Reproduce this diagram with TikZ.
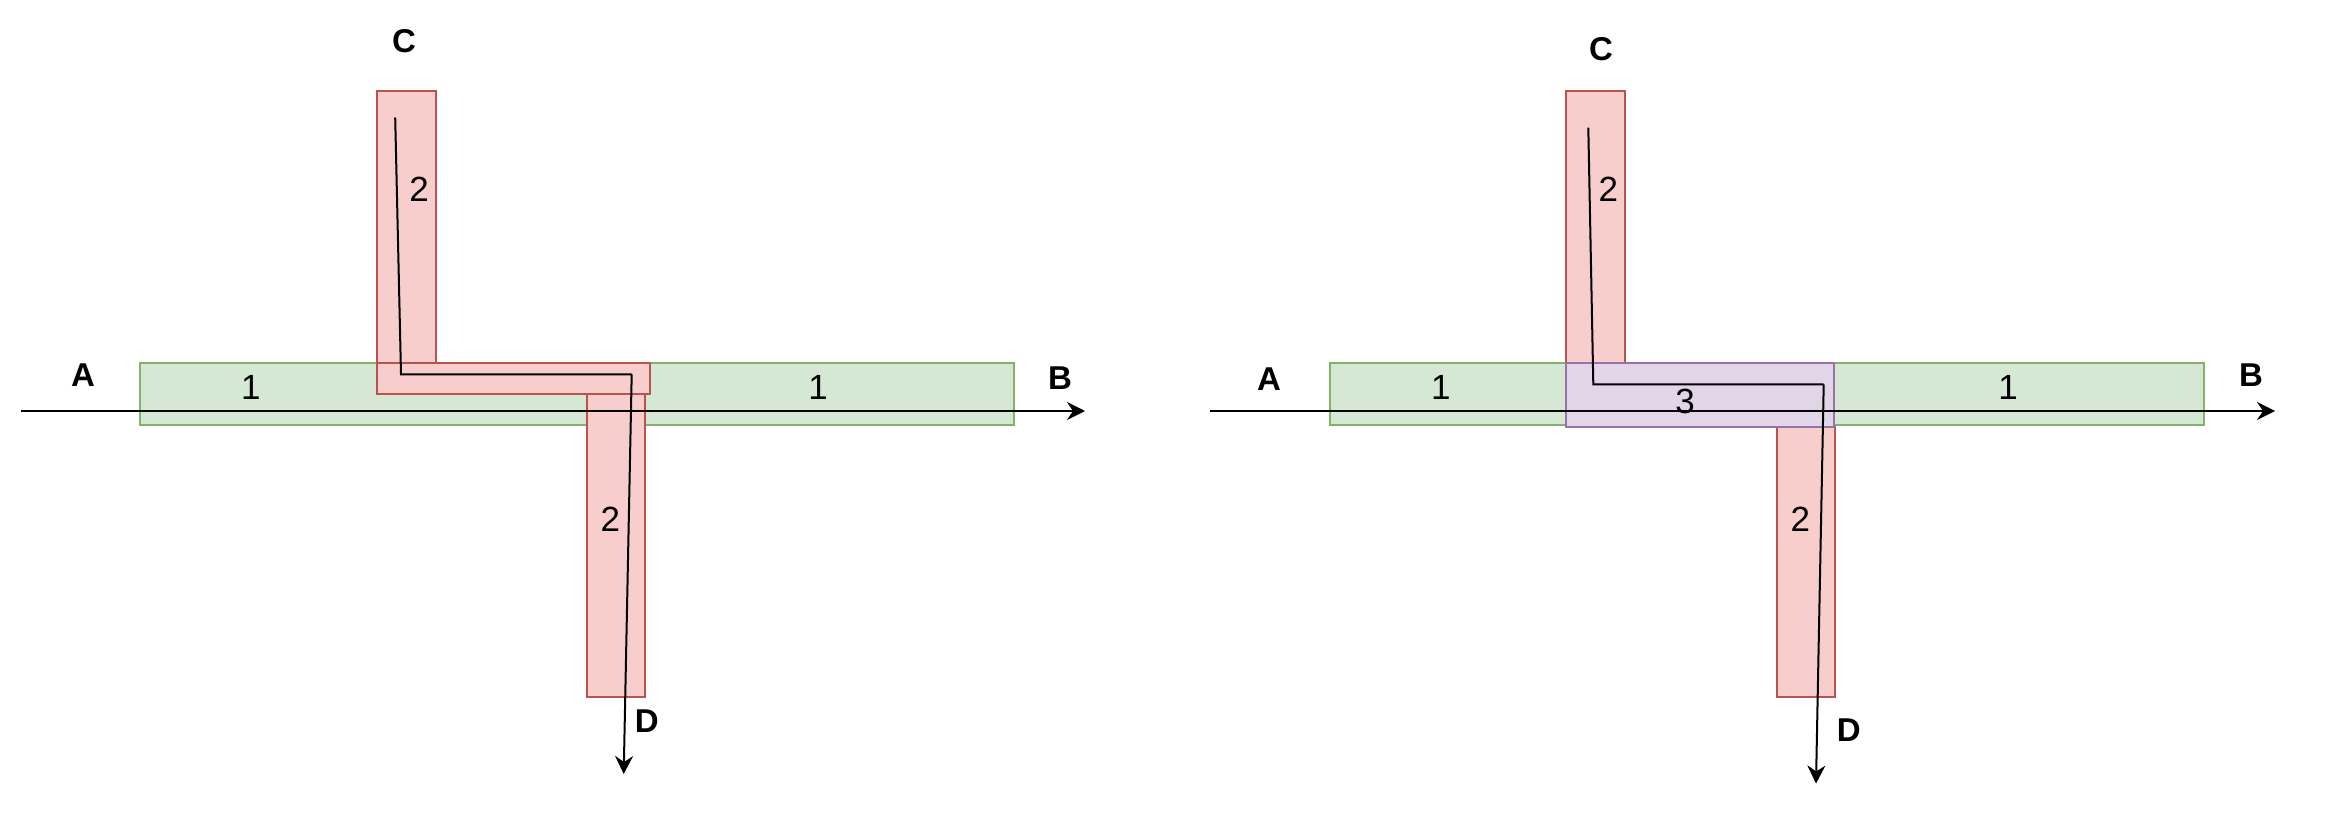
\documentclass[tikz,border=0pt]{standalone}
\usepackage{fontspec}
\setmainfont{Liberation Sans}
\usetikzlibrary{arrows.meta}
\definecolor{gfill}{HTML}{D5E8D4}
\definecolor{gdraw}{HTML}{82B366}
\definecolor{rfill}{HTML}{F8CECC}
\definecolor{rdraw}{HTML}{B85450}
\definecolor{pfill}{HTML}{E1D5E7}
\definecolor{pdraw}{HTML}{9673A6}
\tikzset{
  greenbox/.style={fill=gfill,draw=gdraw,line width=1.8pt},
  redbox/.style={fill=rfill,draw=rdraw,line width=1.8pt},
  purplebox/.style={fill=pfill,draw=pdraw,line width=1.8pt},
  flow/.style={draw=black,line width=2pt,-{Stealth[length=18pt,width=18pt,inset=6pt]}},
  pathline/.style={draw=black,line width=2pt,line join=miter},
  letter/.style={font=\fontsize{33}{40}\selectfont\bfseries,inner sep=0pt},
  digit/.style={font=\fontsize{35}{42}\selectfont,inner sep=0pt}
}
\begin{document}
\begin{tikzpicture}[x=1pt,y=-1pt]
\useasboundingbox (0,0) rectangle (2334,830);
% ---------- left panel ----------
\draw[greenbox] (139.9,363.2) rectangle (1013.7,425);
\draw[redbox] (376.7,91.1) rectangle (435.6,362.7);
\draw[redbox] (586.7,394.3) rectangle (645,696.7);
\draw[redbox] (376.7,362.7) rectangle (650,394.3);
\node[digit] (l1a) at (250.8,387.5) {1};
\node[digit] (l1b) at (818,387.5) {1};
\node[digit] (l2a) at (419,189.5) {2};
\node[digit] (l2b) at (610.3,518.8) {2};
\coordinate (lA) at (20.8,411);
\coordinate (lB) at (1085,411);
\draw[flow] (lA) -- (lB);
\coordinate (lC) at (395.2,117.5);
\coordinate (lk1) at (401,374.3);
\coordinate (lk2) at (631.7,374.3);
\coordinate (lD) at (623.7,774);
\draw[pathline] (lC) -- (lk1) -- (lk2);
\draw[flow] (lk2) -- (lD);
\node[letter] (tA) at (83,375) {A};
\node[letter] (tB) at (1060,378) {B};
\node[letter] (tC) at (404.1,41.3) {C};
\node[letter] (tD) at (646.8,721) {D};
% ---------- right panel ----------
\draw[greenbox] (1330,363.2) rectangle (2204,425);
\draw[redbox] (1566.2,91.1) rectangle (1625,362.7);
\draw[redbox] (1777,426.7) rectangle (1835,696.7);
\draw[purplebox] (1565.7,362.7) rectangle (1834,426.7);
\node[digit] (r1a) at (1440.9,387.5) {1};
\node[digit] (r1b) at (2008,387.5) {1};
\node[digit] (r3) at (1685,401.7) {3};
\node[digit] (r2a) at (1608.4,189.5) {2};
\node[digit] (r2b) at (1800.4,518.8) {2};
\coordinate (rA) at (1210.2,411);
\coordinate (rB) at (2275,411);
\draw[flow] (rA) -- (rB);
\coordinate (rC) at (1588.3,127.6);
\coordinate (rk1) at (1593.3,384.3);
\coordinate (rk2) at (1823.7,384.3);
\coordinate (rD) at (1816,783.5);
\draw[pathline] (rC) -- (rk1) -- (rk2);
\draw[flow] (rk2) -- (rD);
\node[letter] (sA) at (1269,379) {A};
\node[letter] (sB) at (2251,375) {B};
\node[letter] (sC) at (1600.9,49.2) {C};
\node[letter] (sD) at (1848.8,730.5) {D};
\end{tikzpicture}
\end{document}
